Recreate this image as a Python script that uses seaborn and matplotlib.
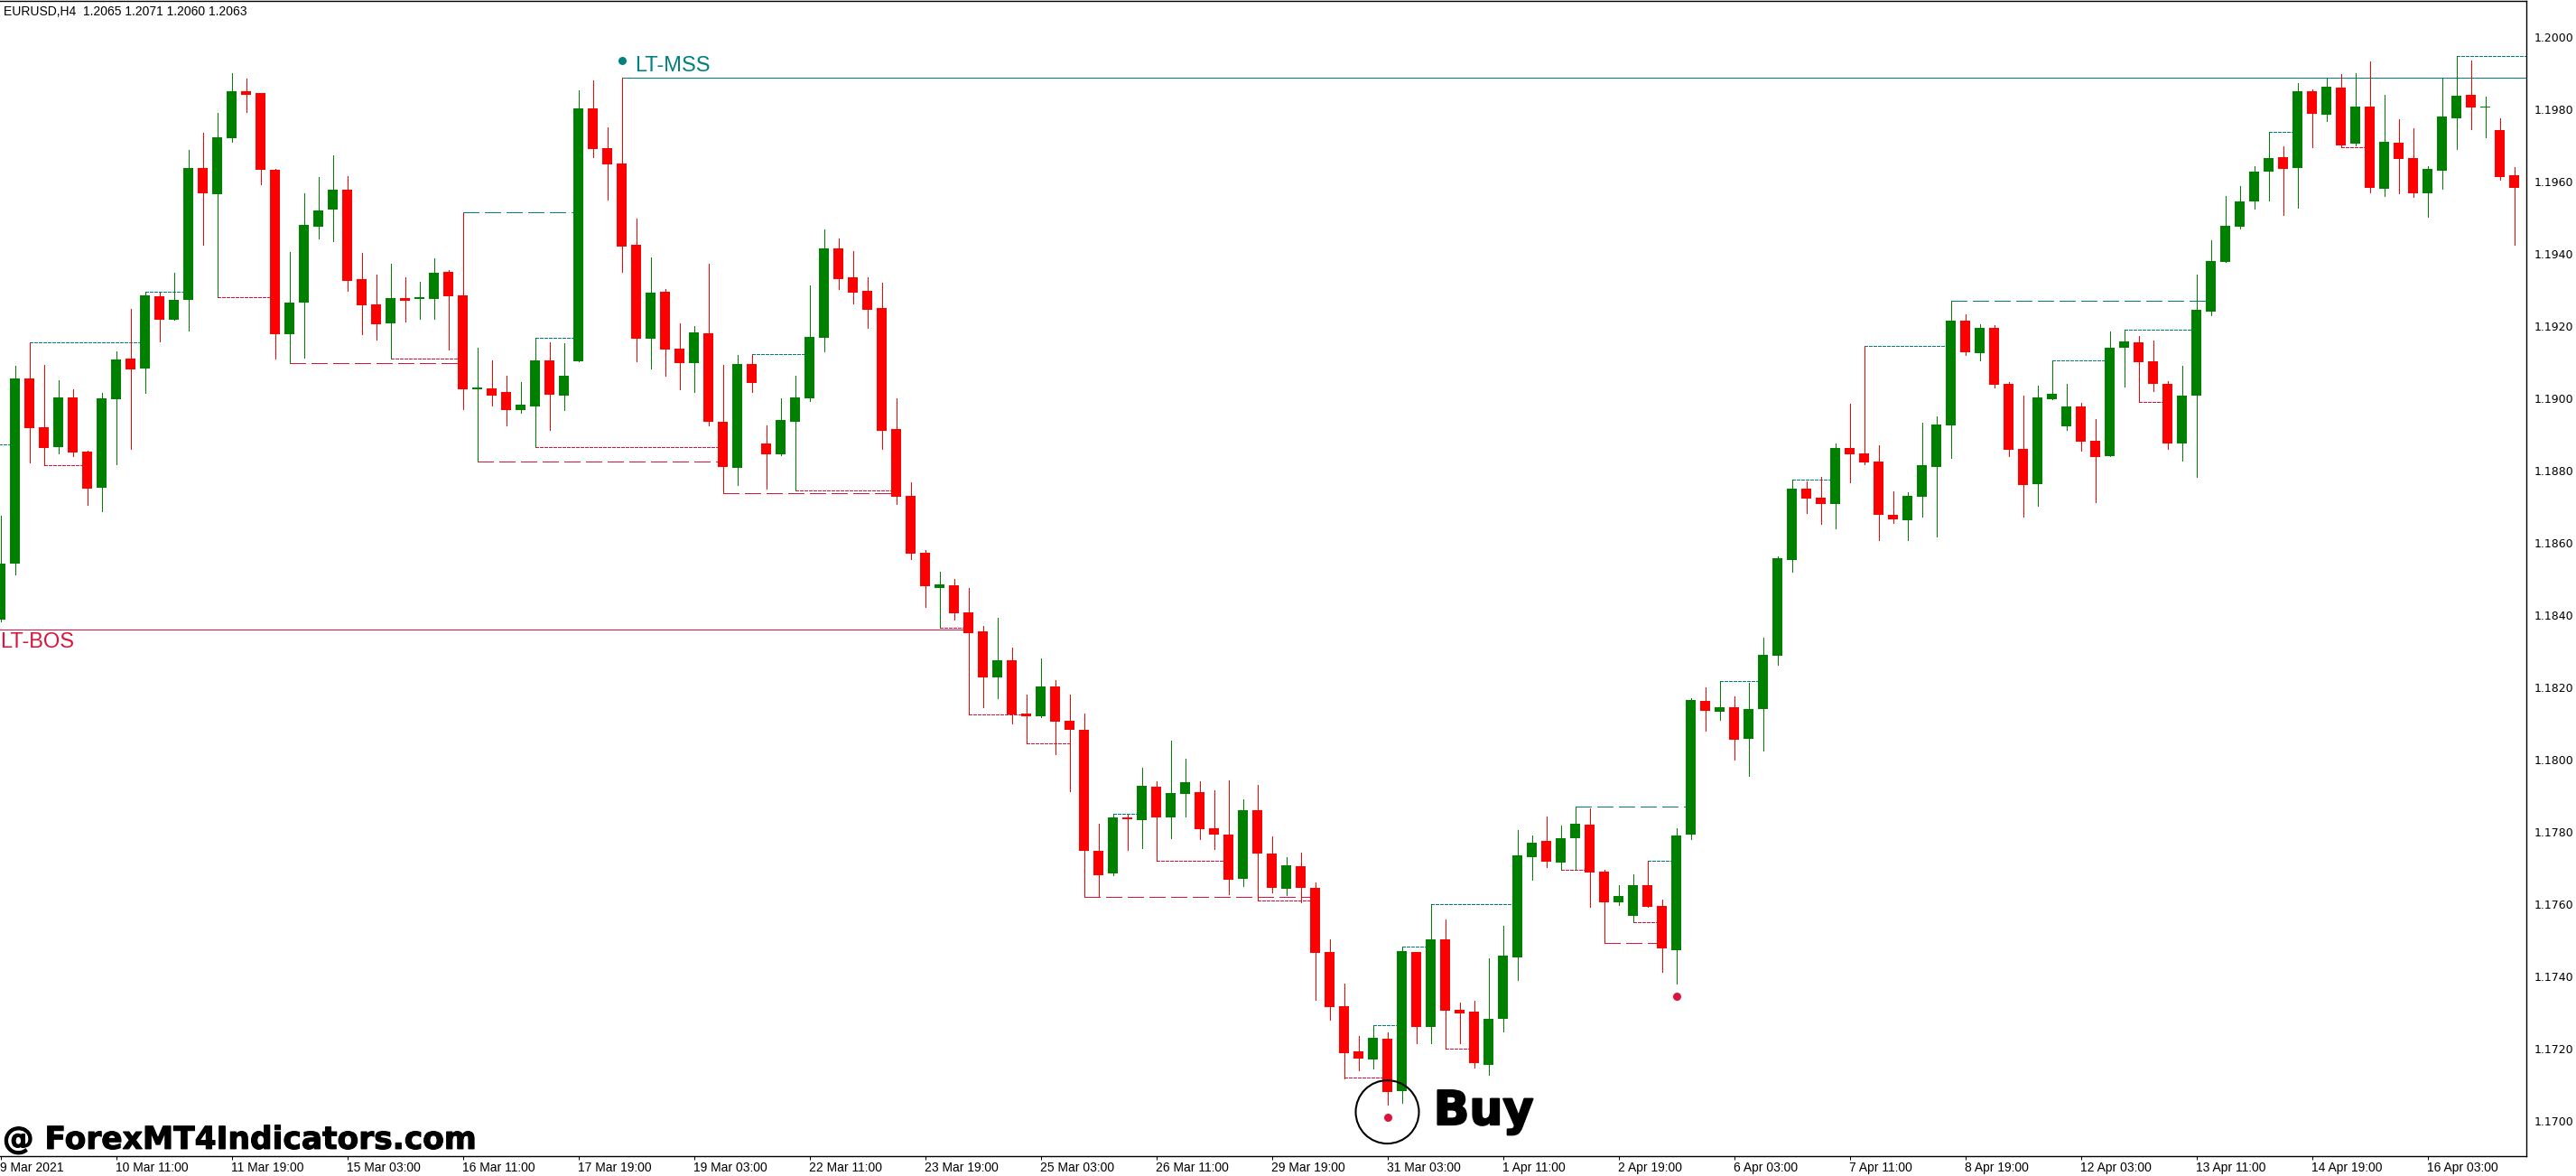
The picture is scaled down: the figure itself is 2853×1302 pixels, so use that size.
"""
EURUSD H4 candlestick chart with LT-MSS / LT-BOS structure levels.
"""

import matplotlib.pyplot as plt
import matplotlib.patheffects as pe
import seaborn as sns
import pandas as pd
import numpy as np

# Prices are in points (1 point = 0.00001)
opens = [
    118388, 118544, 119056, 118920, 118866, 119003, 118853, 118753, 118998, 119111,
    119083, 119283, 119218, 119273, 119638, 119565, 119721, 119850, 119845, 119633,
    119178, 119265, 119476, 119523, 119578, 119331, 119260, 119208, 119278, 119276,
    119276, 119351, 119285, 119026, 119028, 119018, 118968, 118978, 119106, 119008,
    119103, 119803, 119693, 119651, 119425, 119165, 119296, 119138, 119098, 119180,
    118936, 118808, 119096, 118876, 118846, 118936, 119000, 119169, 119416, 119336,
    119298, 119251, 118916, 118730, 118573, 118475, 118483, 118408, 118355, 118228,
    118275, 118128, 118121, 118203, 118108, 118083, 117748, 117685, 117840, 117833,
    117926, 117840, 117906, 117911, 117811, 117793, 117670, 117860, 117741, 117643,
    117705, 117646, 117468, 117318, 117193, 117171, 117228, 117083, 117468, 117261,
    117503, 117308, 117303, 117155, 117283, 117453, 117730, 117776, 117716, 117783,
    117820, 117690, 117606, 117568, 117653, 117595, 117473, 117793, 118163, 118133,
    118145, 118058, 118141, 118289, 118553, 118751, 118726, 118708, 118863, 118848,
    118826, 118678, 118663, 118728, 118811, 118926, 119216, 119126, 119196, 119041,
    118861, 118763, 118998, 118923, 118978, 118883, 118841, 119141, 119156, 119103,
    119040, 118876, 119008, 119240, 119378, 119475, 119545, 119628, 119668, 119638,
    119850, 119785, 119861, 119705, 119808, 119581, 119708, 119666, 119568, 119630,
    119776, 119841, 119805, 119743, 119618,
]
closes = [
    118543, 119056, 118918, 118864, 119003, 118851, 118751, 119000, 119108, 119080,
    119285, 119218, 119273, 119638, 119568, 119723, 119850, 119841, 119633, 119178,
    119265, 119480, 119520, 119578, 119325, 119258, 119205, 119278, 119271, 119280,
    119349, 119283, 119026, 119031, 119008, 118968, 118983, 119106, 119011, 119063,
    119803, 119691, 119648, 119420, 119165, 119293, 119136, 119098, 119183, 118936,
    118811, 119096, 119043, 118846, 118940, 119003, 119171, 119416, 119331, 119293,
    119245, 118911, 118728, 118570, 118480, 118485, 118405, 118350, 118228, 118275,
    118126, 118122, 118203, 118105, 118083, 117748, 117681, 117840, 117836, 117928,
    117840, 117908, 117938, 117808, 117793, 117669, 117860, 117741, 117646, 117708,
    117646, 117465, 117316, 117188, 117173, 117230, 117080, 117471, 117261, 117503,
    117305, 117298, 117160, 117283, 117458, 117736, 117770, 117718, 117783, 117823,
    117688, 117606, 117623, 117653, 117593, 117478, 117791, 118165, 118136, 118145,
    118055, 118141, 118291, 118558, 118751, 118723, 118708, 118863, 118846, 118823,
    118678, 118666, 118731, 118816, 118928, 119216, 119128, 119196, 119038, 118858,
    118761, 119003, 119013, 118978, 118881, 118838, 119141, 119158, 119101, 119041,
    118876, 119008, 119246, 119381, 119478, 119545, 119628, 119666, 119635, 119850,
    119788, 119863, 119700, 119808, 119583, 119711, 119663, 119568, 119635, 119781,
    119838, 119805, 119809, 119613, 119583,
]
highs = [
    118675, 119091, 119157, 119093, 119051, 119026, 118857, 119016, 119131, 119248,
    119297, 119293, 119349, 119688, 119736, 119790, 119901, 119885, 119847, 119636,
    119405, 119568, 119613, 119673, 119616, 119403, 119343, 119373, 119336, 119323,
    119389, 119356, 119517, 119140, 119106, 119063, 119046, 119168, 119156, 119153,
    119853, 119881, 119751, 119889, 119498, 119391, 119303, 119208, 119200, 119373,
    119093, 119120, 119124, 118926, 119000, 119063, 119313, 119469, 119443, 119409,
    119336, 119320, 119000, 118768, 118580, 118520, 118500, 118475, 118370, 118393,
    118310, 118180, 118280, 118220, 118182, 118128, 117823, 117850, 117849, 117978,
    117940, 118053, 118003, 117940, 117915, 117943, 117891, 117931, 117788, 117732,
    117743, 117661, 117503, 117381, 117237, 117265, 117246, 117484, 117468, 117602,
    117558, 117328, 117334, 117451, 117542, 117805, 117791, 117843, 117818, 117870,
    117865, 117696, 117653, 117683, 117722, 117613, 117812, 118172, 118200, 118219,
    118176, 118213, 118338, 118563, 118777, 118771, 118783, 118876, 118986, 119147,
    118871, 118743, 118741, 118933, 118951, 119272, 119233, 119206, 119203, 119046,
    119008, 119036, 119107, 119041, 118988, 118943, 119186, 119190, 119173, 119161,
    119048, 119091, 119343, 119438, 119561, 119588, 119643, 119739, 119698, 119873,
    119855, 119886, 119898, 119900, 119933, 119841, 119773, 119748, 119643, 119886,
    119948, 119936, 119835, 119776, 119640,
]
lows = [
    118383, 118514, 118824, 118817, 118849, 118840, 118706, 118688, 118818, 118860,
    119016, 119158, 119218, 119188, 119425, 119282, 119711, 119793, 119593, 119111,
    119099, 119113, 119443, 119436, 119298, 119178, 119163, 119112, 119213, 119220,
    119220, 119136, 118971, 118825, 118980, 118926, 118960, 118865, 118913, 118968,
    119103, 119668, 119551, 119351, 119103, 119083, 119063, 119026, 119018, 118926,
    118739, 118760, 119018, 118751, 118844, 118745, 118993, 119131, 119303, 119263,
    119196, 118860, 118708, 118555, 118423, 118365, 118388, 118127, 118145, 118170,
    118101, 118045, 118118, 118015, 117914, 117622, 117622, 117681, 117750, 117756,
    117722, 117783, 117843, 117780, 117753, 117629, 117650, 117611, 117633, 117626,
    117606, 117336, 117281, 117119, 117140, 117146, 117045, 117051, 117215, 117215,
    117202, 117215, 117148, 117128, 117248, 117391, 117668, 117703, 117697, 117697,
    117593, 117494, 117598, 117550, 117593, 117413, 117381, 117780, 118081, 118110,
    118001, 117955, 118026, 118263, 118521, 118683, 118653, 118641, 118768, 118818,
    118608, 118656, 118608, 118673, 118618, 118836, 119121, 119106, 119031, 118841,
    118673, 118703, 118998, 118913, 118856, 118713, 118841, 119033, 118992, 119021,
    118860, 118828, 118783, 119231, 119378, 119471, 119525, 119548, 119508, 119528,
    119695, 119768, 119696, 119700, 119570, 119561, 119568, 119558, 119503, 119581,
    119691, 119745, 119723, 119606, 119426,
]

# Structure levels: (first candle, last candle, price in points)
teal_dotted = [
    (-1, 1, 118873), (2, 10, 119157), (10, 13, 119297), (37, 40, 119168),
    (52, 56, 119124), (77, 79, 117850), (95, 97, 117265), (97, 99, 117484),
    (99, 105, 117602), (114, 116, 117722), (119, 122, 118219), (124, 127, 118777),
    (129, 135, 119147), (142, 146, 119107), (147, 152, 119190), (157, 159, 119739),
    (170, 175, 119948),
]
teal_dashed = [(32, 40, 119517), (109, 117, 117870), (135, 153, 119272)]
red_dotted = [
    (3, 6, 118817), (15, 19, 119282), (27, 32, 119112), (37, 50, 118865),
    (55, 62, 118745), (65, 67, 118365), (67, 71, 118127), (71, 74, 118045),
    (80, 85, 117722), (87, 91, 117611), (93, 96, 117120), (100, 102, 117202),
    (108, 110, 117697), (113, 115, 117550), (148, 150, 118992), (162, 164, 119697),
]
red_dashed = [
    (20, 32, 119099), (33, 50, 118825), (50, 62, 118739), (75, 91, 117622),
    (111, 115, 117494),
]
mss_level = (43, 175, 119889)
bos_level = (-1, 67, 118360)

mss_dot = (43, 119935)
buy_dots_x = [96, 116]
buy_dots_y = [117010, 117345]

time_labels = [
    "9 Mar 2021", "10 Mar 11:00", "11 Mar 19:00", "15 Mar 03:00", "16 Mar 11:00",
    "17 Mar 19:00", "19 Mar 03:00", "22 Mar 11:00", "23 Mar 19:00", "25 Mar 03:00",
    "26 Mar 11:00", "29 Mar 19:00", "31 Mar 03:00", "1 Apr 11:00", "2 Apr 19:00",
    "6 Apr 03:00", "7 Apr 11:00", "8 Apr 19:00", "12 Apr 03:00", "13 Apr 11:00",
    "14 Apr 19:00", "16 Apr 03:00",
]
price_ticks = [1.1700 + 0.002 * k for k in range(16)]

GREEN = "#008000"
RED = "#ff0000"
TEAL = "#008080"
CRIMSON = "#dc143c"
PX = 0.72  # one pixel in points at dpi 100
POINT = 1e-5


def draw_levels(ax, levels, color, dashes):
    for start, end, price in levels:
        ax.hlines(
            price * POINT,
            start,
            end,
            colors=color,
            linewidth=PX,
            linestyles=dashes,
            antialiased=False,
            zorder=2,
        )


sns.set_style("white")
plt.rcParams["font.family"] = ["Liberation Sans", "DejaVu Sans"]

df = pd.DataFrame(
    {
        "candle": np.arange(len(opens)),
        "open": np.array(opens) * POINT,
        "high": np.array(highs) * POINT,
        "low": np.array(lows) * POINT,
        "close": np.array(closes) * POINT,
    }
)
df["bottom"] = df[["open", "close"]].min(axis=1)
df["body"] = (df["close"] - df["open"]).abs()
df["up"] = df["close"] > df["open"]

fig = plt.figure(figsize=(28.53, 13.02), dpi=100)
ax = fig.add_axes([0, 22.5 / 1302, 2798 / 2853, 1279 / 1302])

# Wicks sit under the bodies
for is_up, color in [(True, GREEN), (False, RED)]:
    part = df[df["up"] == is_up]
    ax.vlines(
        part["candle"],
        part["low"],
        part["high"],
        colors=color,
        linewidth=PX,
        antialiased=False,
        zorder=2.5,
    )

# Candle bodies
for is_up, color in [(True, GREEN), (False, RED)]:
    part = df[df["up"] == is_up]
    sns.barplot(
        data=part,
        x="candle",
        y="body",
        native_scale=True,
        bottom=part["bottom"].values,
        color=color,
        saturation=1,
        width=0.6875,
        errorbar=None,
        linewidth=0,
        antialiased=False,
        zorder=3,
        ax=ax,
    )

# Structure levels
draw_levels(ax, teal_dotted, TEAL, (0, (3, 2)))
draw_levels(ax, red_dotted, CRIMSON, (0, (3, 2)))
draw_levels(ax, teal_dashed, TEAL, (0, (17, 6)))
draw_levels(ax, red_dashed, CRIMSON, (0, (17, 6)))
draw_levels(ax, [mss_level], TEAL, "solid")
draw_levels(ax, [bos_level], CRIMSON, "solid")

# Signal dots
sns.scatterplot(
    x=[mss_dot[0]], y=[mss_dot[1] * POINT], color=TEAL, s=42, linewidth=0, zorder=4, ax=ax
)
sns.scatterplot(
    x=buy_dots_x,
    y=np.array(buy_dots_y) * POINT,
    color=CRIMSON,
    s=42,
    linewidth=0,
    zorder=4,
    ax=ax,
)

# Buy marker ring
ax.scatter(
    [96], [117026 * POINT], s=2540, facecolors="none", edgecolors="black", linewidths=1.5, zorder=5
)

# Labels
ax.text(43.9, 119906 * POINT, "LT-MSS", color=TEAL, fontsize=17, va="baseline")
ax.text(-0.03, 118310 * POINT, "LT-BOS", color=CRIMSON, fontsize=17, va="baseline")
ax.text(
    99.2,
    116991 * POINT,
    "Buy",
    color="black",
    fontsize=37.5,
    family="DejaVu Sans",
    fontweight="bold",
    va="baseline",
    path_effects=[pe.withStroke(linewidth=1.5, foreground="black")],
    zorder=6,
)
ax.text(
    0.16,
    116924 * POINT,
    "@ ForexMT4Indicators.com",
    color="black",
    fontsize=24.8,
    family="DejaVu Sans",
    fontweight="bold",
    va="baseline",
    path_effects=[pe.withStroke(linewidth=0.8, foreground="black")],
    zorder=6,
)
ax.text(
    0.22,
    120061 * POINT,
    "EURUSD,H4  1.2065 1.2071 1.2060 1.2063",
    color="black",
    fontsize=10,
    va="baseline",
)

# Axes
ax.set_xlim(-0.03125, 174.84375)
ax.set_ylim(116905 * POINT, 120102 * POINT)
ax.set_xlabel("")
ax.set_ylabel("")
ax.set_xticks(np.arange(len(time_labels)) * 8)
ax.set_xticklabels(time_labels, ha="left", fontsize=10)
ax.yaxis.tick_right()
ax.set_yticks(price_ticks)
ax.set_yticklabels([f"{t:.4f}" for t in price_ticks], family="DejaVu Sans", fontsize=9)
ax.tick_params(axis="x", bottom=True, length=3, width=PX, pad=2, color="black", labelcolor="black")
ax.tick_params(axis="y", right=True, length=3, width=PX, pad=3, color="black", labelcolor="black")
sns.despine(ax=ax, left=True, top=False, right=False, bottom=False)
for side in ["top", "right", "bottom"]:
    ax.spines[side].set_color("black")
    ax.spines[side].set_linewidth(1.0)

fig.savefig("out.png", dpi=100)
